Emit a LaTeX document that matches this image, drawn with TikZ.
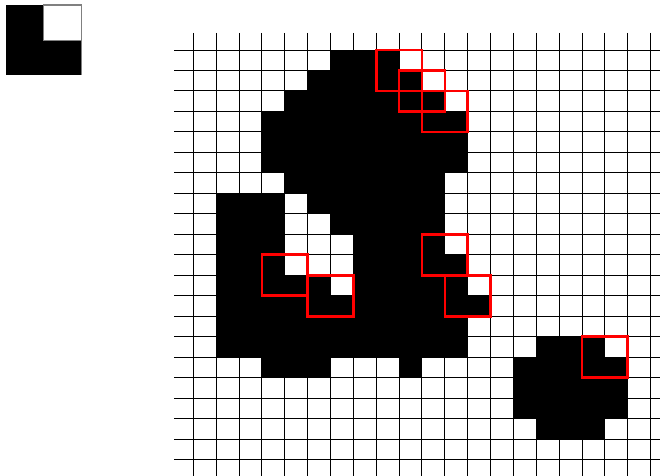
\documentclass[tikz,border=0pt]{standalone}
\usepackage{tikz}

\begin{document}
\begin{tikzpicture}[
    x=0.02cm, y=-0.02cm,
    cell/.style={fill=black},
    gridline/.style={draw=black, line width=0.55pt},
    tmpline/.style={draw=gray, line width=0.7pt},
    window/.style={draw=red, line width=1.5pt}
]
\useasboundingbox (0,0) rectangle (660,476);
\fill[white] (0,0) rectangle (660,476);

% Template (2x2)
\fill[black] (6,5) rectangle (81.7,75);
\filldraw[fill=white, tmpline] (43.3,5) rectangle (81.7,40.7);
\draw[tmpline] (81.7,40.7) -- (81.7,75);

% Image grid
\begin{scope}[shift={(193.3,50)}, x=0.4574cm, y=-0.4097cm]
  % black pixels, one run per row: row/first/last
  \foreach \r/\a/\b in {0/6/8, 1/5/9, 2/4/10, 3/3/11, 4/3/11, 5/3/11, 6/4/10,
      7/1/3, 7/5/10, 8/1/3, 8/6/10, 9/1/3, 9/7/10, 10/1/3, 10/7/11,
      11/1/5, 11/7/11, 12/1/12, 13/1/11, 14/1/11, 14/15/17,
      15/3/5, 15/9/9, 15/14/18, 16/14/18, 17/14/18, 18/15/17}
    \fill[cell] (\a,\r) rectangle (\b+1,\r+1);

  % grid lines
  \foreach \k in {0,...,20} {
    \draw[gridline] (-0.844,\k) -- (20.41,\k);
    \draw[gridline] (\k,-0.83) -- (\k,20.8);
  }

  % matches of the template
  \foreach \c/\r in {8/0, 9/1, 10/2, 10/9, 3/10, 5/11, 11/11, 17/14}
    \draw[window] (\c,\r) rectangle (\c+2,\r+2);
\end{scope}

\end{tikzpicture}
\end{document}
